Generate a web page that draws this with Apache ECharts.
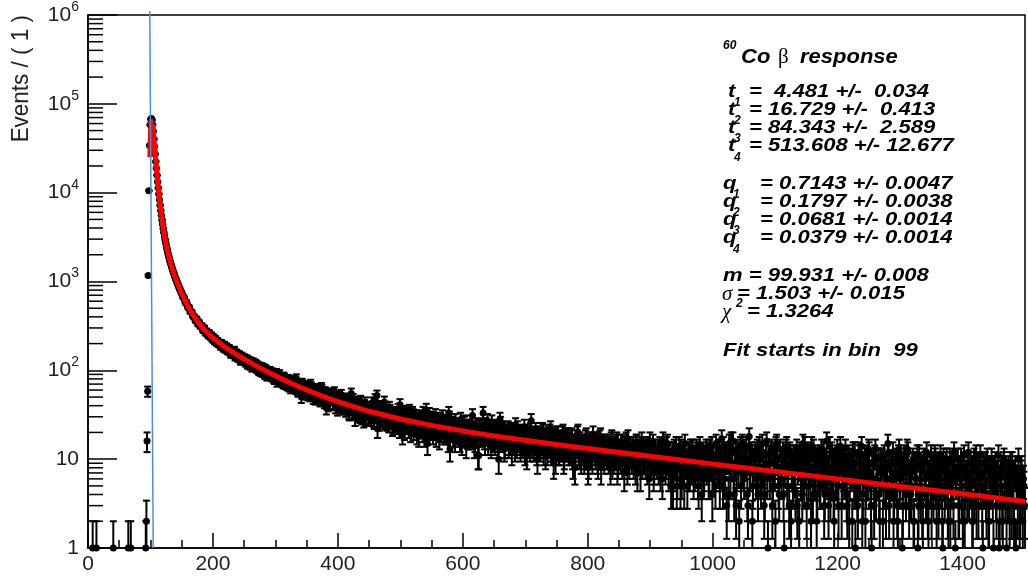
<!DOCTYPE html>
<html><head><meta charset="utf-8">
<script src="https://cdn.jsdelivr.net/npm/echarts@6/dist/echarts.min.js"></script>
<style>html,body{margin:0;padding:0;background:#fff;}#c{width:1028px;height:583px;}</style>
</head><body><div id="c"></div>
<script>
// ---- data ----
const preBinX = [7.5, 13.5, 40.5, 64.5, 68.5, 92.5, 93.5, 94.5, 95.5, 96.5, 97.5];
const preCounts = [1, 1, 1, 1, 1, 1, 2, 16, 58, 1170, 10500];
const peakStart = 98.5;
const peakCounts = [34000, 58000, 67000, 68500, 66000, 58500, 49000, 40200, 33000, 27200,
  22400, 18800, 15700, 13300, 11300, 9650, 8300, 7200, 6300, 5560,
  4920, 4400, 3960, 3560, 3240, 2960, 2720, 2500, 2330, 2160,
  2020, 1890, 1780, 1680, 1590, 1500, 1430, 1350, 1290, 1230,
  1170, 1120, 1070, 1030, 985, 945, 910, 870, 840, 810, 780, 755];
// bins 150.5, 152.5, ... (even offsets) and 151.5, 153.5, ... (odd offsets)
const tailStart = 150.5;
const tailCountsA = [
728,661,637,571,559,506,497,455,447,409,
402,361,372,331,340,309,318,281,297,262,
271,245,262,236,229,241,211,226,204,198,
207,184,199,176,195,171,182,163,177,151,
168,149,171,144,156,139,150,127,146,131,
139,121,136,118,129,124,107,125,110,119,
117,101,112,96,110,99,92,104,86,98,
88,97,84,93,79,90,74,88,91,76,
84,71,82,76,68,80,73,63,77,72,
74,62,71,58,69,66,72,57,65,59,
67,53,61,70,55,49,62,58,51,60,
58,47,61,50,44,56,53,41,55,49,
52,43,57,39,48,46,51,40,47,38,
45,36,48,41,33,44,39,47,35,40,
41,32,38,45,30,36,40,29,37,34,
38,29,43,33,27,36,52,39,26,34,
35,28,44,31,26,33,38,27,30,24,
33,25,29,36,22,31,27,34,21,30,
29,24,35,20,27,31,23,28,19,26,
30,22,26,33,18,25,28,21,32,24,
27,19,25,31,21,24,17,28,22,26,
20,26,23,16,29,22,25,18,21,27,
24,18,22,28,15,21,25,19,23,17,
22,26,18,21,14,24,20,11,23,19,
21,33,17,24,19,15,22,18,26,16,
20,16,23,14,19,25,17,21,13,18,
19,22,15,18,12,21,17,24,14,16,
18,13,20,16,23,15,11,19,17,21,
14,18,16,21,12,17,19,13,15,20,
17,11,16,19,14,22,13,15,18,10,
15,19,12,16,14,20,11,17,13,18,
16,12,18,9,15,13,17,20,11,14,
12,15,10,17,13,8,14,16,11,19,
14,11,16,9,13,18,12,15,10,13,
11,15,13,8,17,12,10,14,16,9,
13,10,15,12,7,14,11,17,9,12,
10,14,12,8,15,11,13,7,16,10,
12,9,14,11,6,13,10,15,8,11,
9,13,11,7,12,16,10,8,14,11,
12,8,10,5,13,9,5,11,14,5,
6,10,5,12,9,7,11,13,8,10,
11,8,13,6,9,10,4,12,7,9,
8,12,6,10,14,7,9,5,11,8,
13,7,17,5,9,11,3,10,15,6,
9,16,4,12,7,10,2,14,8,11,
6,13,9,3,18,7,11,5,10,12,
8,4,14,10,6,12,3,9,16,1,
11,7,13,5,9,2,15,8,4,10,
6,12,1,9,14,7,3,11,8,5,
10,4,13,8,2,11,7,15,5,9,
3,12,8,6,14,4,10,7,2,11,
9,5,13,7,3,10,16,6,8,4,
12,7,2,9,11,5,8,14,3,10,
6,13,4,8,2,10,7,12,5,1,
9,3,11,7,14,4,8,2,10,6,
12,5,1,9,3,13,6,8,4,10,
7,2,11,5,9,15,3,8,6,12,
4,10,7,2,13,6,9,3,11,5,
8,12,3,7,5,10,2,9,6,1,
11,4,8,2,9,6,12,3,7,5,
3,9,6,10,2,7,4,11,5,1,
8,5,10,3,7,2,9,6,12,1,
6,10,3,8,4,2,11,5,7,9,
4,9,6,2,10,5,3,8,7,11,
7,1,5,9,3,8,2,6,10,4,
6,9,3,7,1,5,8,2,10,4,
1,7,4,9,3,6,2,8,5,3,
6,3,8,2,5];
const tailCountsB = [
689,671,598,589,527,521,463,459,418,397,
379,383,341,352,318,322,291,303,271,279,
255,268,239,251,222,219,230,204,216,196,
192,205,183,194,172,188,166,180,159,170,
153,162,141,159,137,152,132,145,128,140,
126,134,115,131,112,127,114,109,121,104,
113,98,108,103,94,107,89,101,95,87,
99,86,95,81,87,94,80,78,85,83,
73,85,70,79,74,66,78,70,64,75,
65,81,60,68,63,50,70,61,67,54,
63,55,52,65,57,60,48,56,62,50,
46,64,52,48,57,38,51,54,43,50,
49,55,42,50,37,47,44,53,39,45,
38,46,43,34,42,55,37,41,29,44,
35,42,31,39,36,28,43,33,38,30,
31,37,34,28,47,32,22,35,30,37,
29,34,27,38,30,25,35,31,23,33,
26,32,28,24,41,29,19,31,27,33,
31,22,28,25,33,21,26,30,24,18,
23,28,20,27,24,36,15,26,22,29,
25,21,28,18,23,26,20,24,30,19,
24,19,22,33,13,21,25,20,16,23,
19,24,16,22,20,26,18,14,21,23,
17,21,31,19,16,22,18,11,20,24,
18,23,15,20,27,17,21,14,19,22,
15,21,18,10,28,16,22,19,14,17,
20,14,17,21,15,18,13,16,22,19,
15,19,14,17,12,20,16,18,13,27,
17,13,19,15,10,18,14,16,21,12,
14,18,12,16,20,13,17,9,15,19,
16,12,17,13,19,10,15,14,18,12,
13,17,11,15,8,14,19,12,16,10,
15,11,14,18,12,9,16,13,10,14,
12,16,10,13,17,8,14,11,15,12,
14,10,12,16,9,13,11,15,8,12,
11,15,9,13,12,16,8,10,14,11,
13,9,11,15,7,12,10,14,9,13,
10,14,8,12,16,9,11,7,13,10,
12,8,14,10,6,11,13,9,15,7,
9,5,12,7,10,14,6,11,8,13,
11,8,15,9,5,12,7,10,13,6,
7,12,9,5,14,8,11,6,10,13,
10,6,13,9,4,11,7,15,8,12,
5,11,8,14,6,10,12,4,9,16,
12,6,9,3,13,8,11,5,15,7,
9,14,4,10,7,12,2,8,11,6,
13,7,10,5,15,8,4,11,6,9,
6,12,3,9,7,14,10,5,13,8,
10,4,8,13,5,9,12,2,7,11,
7,11,3,9,12,6,4,10,14,8,
9,5,11,2,8,13,6,10,4,7,
5,11,8,12,4,7,9,3,14,6,
8,4,10,6,13,3,9,11,5,7,
10,7,3,11,6,9,2,8,12,5,
4,12,6,9,2,7,11,5,8,13,
7,3,9,6,11,4,8,10,2,7,
10,5,8,3,6,12,4,9,7,2,
6,9,3,11,5,8,1,7,10,4,
13,5,7,4,9,2,8,6,11,3,
5,8,3,10,6,4,9,2,7,11,
7,4,11,5,8,3,9,6,2,10,
4,9,6,2,10,5,7,3,8,6,
8,3,7,10,5,9,2,6,4,12,
7,5,2,8,4,11,6,3,9,5,
3,9,6,4,10,2,7,5,8,1,
8,4,6,11,2,7,3,9,5,6,
4,8,2,6,9,3,7,1,5,10,
2,7,4,6,3];
const fitX = [99, 99.5, 100, 100.5, 101, 101.5, 102, 103, 104, 105, 106, 108, 110, 112, 115, 118, 121, 125, 130, 135, 140,
  150, 160, 170, 180, 190, 200, 220, 240, 260, 280, 300, 320, 340, 360, 380, 400, 450, 500, 550, 600, 650, 700, 750, 800,
  900, 1000, 1100, 1200, 1300, 1400, 1500];
const fitY = [25100, 35000, 46800, 57500, 66400, 69300, 70000, 63700, 53700, 44300, 36360, 24740, 17150, 12175, 7652, 5134, 3678, 2572, 1820, 1380, 1089,
  730, 525, 400, 321, 269, 231, 181, 147, 122, 102, 86.7, 74.4, 64.4, 56.4, 49.8, 44.4, 34.6, 28.3, 24.0, 20.8, 18.3, 16.3, 14.65, 13.2,
  10.76, 8.85, 7.29, 6.0, 4.94, 4.07, 3.35];
const cutLineX = [98.9, 104.4];
const cutLineY = [1.1e6, 1];
const xTickLabels = ['0', '200', '400', '600', '800', '1000', '1200', '1400'];
const yTitle = 'Events / ( 1 )';

// ---- build ----
const points = [];
preBinX.forEach((x, i) => points.push([x, preCounts[i]]));
peakCounts.forEach((v, i) => points.push([peakStart + i, v]));
tailCountsA.forEach((v, i) => points.push([tailStart + 2 * i, v]));
tailCountsB.forEach((v, i) => points.push([tailStart + 1 + 2 * i, v]));
const fitData = fitX.map((x, i) => [x, fitY[i]]);
const cutData = cutLineX.map((x, i) => [x, cutLineY[i]]);
const yMinor = [];
for (let k = 0; k < 6; k++) for (let m = 2; m <= 9; m++) yMinor.push([0, m * Math.pow(10, k)]);

const FONT = '"Liberation Sans", Arial, Helvetica, sans-serif';
const SERIF = '"Liberation Serif", "DejaVu Serif", serif';

function renderPoint(params, api) {
  const x = api.value(0), y = api.value(1);
  if (!(y > 0)) return null;
  const e = Math.sqrt(y);
  const p = api.coord([x, y]);
  const cs = params.coordSys;
  const bottomEdge = cs.y + cs.height;
  const top = api.coord([x, y + e])[1];
  const lo = y - e;
  const bot = lo >= 1 ? api.coord([x, lo])[1] : bottomEdge;
  const st = { stroke: '#000', lineWidth: 2 };
  const ch = [
    { type: 'line', shape: { x1: p[0], y1: top, x2: p[0], y2: bot }, style: st },
    { type: 'line', shape: { x1: p[0] - 3.5, y1: top, x2: p[0] + 3.5, y2: top }, style: st }
  ];
  if (lo >= 1) ch.push({ type: 'line', shape: { x1: p[0] - 3.5, y1: bot, x2: p[0] + 3.5, y2: bot }, style: st });
  ch.push({ type: 'circle', shape: { cx: p[0], cy: p[1], r: 3.5 }, style: { fill: '#000' } });
  return { type: 'group', children: ch };
}
function renderMinor(params, api) {
  const p = api.coord([0, api.value(1)]);
  return { type: 'line', shape: { x1: p[0], y1: p[1], x2: p[0] + 15, y2: p[1] }, style: { stroke: '#000', lineWidth: 1.5 } };
}

function txt(x, y, s, font, extra) {
  return Object.assign({ type: 'text', x: x, y: y, z: 100,
    style: { text: s, font: font, fill: '#000', verticalAlign: 'middle', align: 'left' } }, extra || {});
}
const BI = 'italic bold 19px ' + FONT;
const SUB = 'italic bold 12px ' + FONT;
const SX = { scaleX: 1.16 };
const graphics = [
  // y axis title
  { type: 'text', x: 22, y: 15, rotation: Math.PI / 2, scaleX: 1.07, scaleY: 1.1, z: 100,
    style: { text: yTitle, font: '21px ' + FONT, fill: '#222', align: 'right', verticalAlign: 'middle' } },
  // title
  txt(723, 46, '60', 'italic bold 12px ' + FONT),
  txt(741, 57, 'Co', 'italic bold 20px ' + FONT, { scaleX: 1.1 }),
  txt(778, 57, 'β', '21px ' + SERIF),
  txt(800, 57, 'response', 'italic bold 20px ' + FONT, { scaleX: 1.1 }),
  // t lines
  txt(728, 92, 't', BI, SX), txt(734, 103, '1', SUB),
  txt(749, 92, '=  4.481 +/-  0.034', BI, SX),
  txt(728, 110, 't', BI, SX), txt(734, 121, '2', SUB),
  txt(749, 110, '= 16.729 +/-  0.413', BI, SX),
  txt(728, 128, 't', BI, SX), txt(734, 139, '3', SUB),
  txt(749, 128, '= 84.343 +/-  2.589', BI, SX),
  txt(728, 146, 't', BI, SX), txt(734, 158, '4', SUB),
  txt(749, 146, '= 513.608 +/- 12.677', BI, SX),
  // q lines
  txt(723, 184, 'q', BI, SX), txt(733, 195, '1', SUB),
  txt(760, 184, '= 0.7143 +/- 0.0047', BI, SX),
  txt(723, 202, 'q', BI, SX), txt(733, 213, '2', SUB),
  txt(760, 202, '= 0.1797 +/- 0.0038', BI, SX),
  txt(723, 220, 'q', BI, SX), txt(733, 231, '3', SUB),
  txt(760, 220, '= 0.0681 +/- 0.0014', BI, SX),
  txt(723, 238, 'q', BI, SX), txt(733, 250, '4', SUB),
  txt(760, 238, '= 0.0379 +/- 0.0014', BI, SX),
  // others
  txt(723, 276, 'm = 99.931 +/- 0.008', BI, SX),
  txt(722, 294, 'σ', 'italic 21px ' + SERIF),
  txt(737, 294, '= 1.503 +/- 0.015', BI, SX),
  txt(722, 312, 'χ', 'italic 21px ' + SERIF),
  txt(736, 304, '2', SUB),
  txt(747, 312, '= 1.3264', BI, SX),
  txt(723, 351, 'Fit starts in bin  99', BI, SX)
];

const chart = echarts.init(document.getElementById('c'), null, { renderer: 'canvas' });
chart.setOption({
  animation: false,
  backgroundColor: '#fff',
  grid: { left: 88, right: -8, top: 15, bottom: 35, show: true, borderColor: '#000', borderWidth: 1.5, backgroundColor: 'transparent' },
  xAxis: {
    type: 'value', min: 0, max: 1500, interval: 200,
    axisLine: { show: true, lineStyle: { color: '#000', width: 1.5 } },
    axisTick: { show: true, inside: true, length: 15, lineStyle: { color: '#000', width: 1.5 } },
    minorTick: { show: true, splitNumber: 4, length: 8, lineStyle: { color: '#000', width: 1.5 } },
    splitLine: { show: false },
    axisLabel: { fontSize: 21, fontFamily: FONT, color: '#222', margin: 6,
      formatter: v => { const i = Math.round(v / 200); return (v % 200 === 0 && i < xTickLabels.length) ? xTickLabels[i] : ''; } }
  },
  yAxis: {
    type: 'log', logBase: 10, min: 1, max: 1e6, splitNumber: 6,
    axisLine: { show: true, lineStyle: { color: '#000', width: 1.5 } },
    axisTick: { show: true, inside: true, length: 29, lineStyle: { color: '#000', width: 1.5 } },
    splitLine: { show: false },
    axisLabel: {
      fontSize: 21, fontFamily: FONT, color: '#222', margin: 9, lineHeight: 30,
      formatter: v => { const e = Math.round(Math.log10(v)); if (e === 0) return '1'; if (e === 1) return '10'; return '10{sup|' + e + '}'; },
      rich: { sup: { fontSize: 14, fontFamily: FONT, color: '#222', verticalAlign: 'top', lineHeight: 14 } }
    }
  },
  series: [
    { type: 'custom', name: 'yminor', data: yMinor, renderItem: renderMinor, silent: true, clip: false, z: 3 },
    { type: 'custom', name: 'data', data: points, renderItem: renderPoint, clip: false, progressive: 0, z: 4,
      encode: { x: 0, y: 1 } },
    { type: 'line', name: 'fit', data: fitData, showSymbol: false, symbol: 'none', smooth: false, z: 5,
      lineStyle: { color: '#ff0000', width: 5 } },
    { type: 'line', name: 'cut', data: cutData, showSymbol: false, symbol: 'none', clip: false, z: 6,
      lineStyle: { color: '#4a8fd8', width: 1.5 } }
  ],
  graphic: graphics
});
</script></body></html>
